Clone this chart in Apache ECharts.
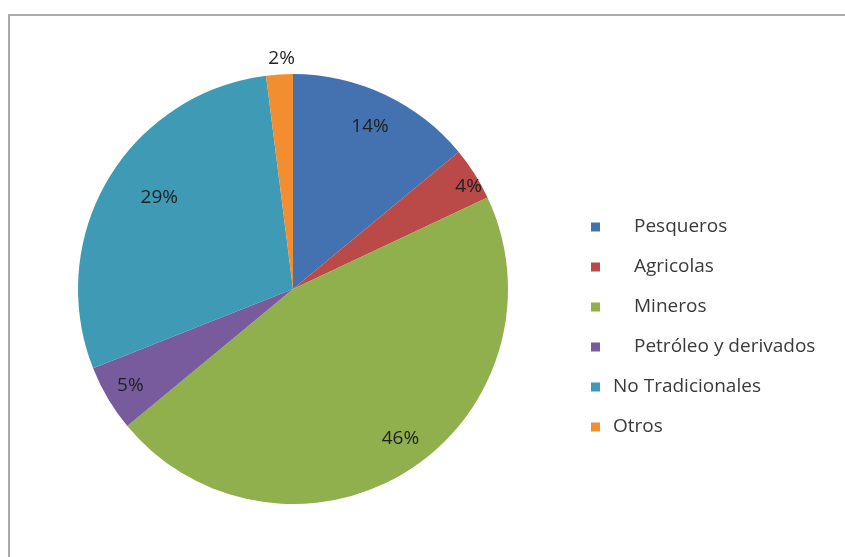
<!DOCTYPE html>
<html>
<head>
<meta charset="utf-8">
<style>
  html, body { margin: 0; padding: 0; background: #ffffff; }
  #chart { width: 845px; height: 557px; }
</style>
<script src="https://cdn.jsdelivr.net/npm/echarts@6/dist/echarts.min.js"></script>
</head>
<body>
<div id="chart"></div>
<script>
// Export categories and their share of the total (percent)
const categories = ['Pesqueros', 'Agricolas', 'Mineros', 'Petróleo y derivados', 'No Tradicionales', 'Otros'];
const shares = [14, 4, 46, 5, 29, 2];
// Legend entries that carry the extra indent
const indented = [true, true, true, true, false, false];
const colors = ['#4472b1', '#b94a47', '#8fb04c', '#775b9c', '#3f9bb5', '#f28e30'];
// Fine placement of each percentage label relative to its default spot
const labelNudge = [[-2, 5], [19, -3], [8, -7], [-3, 2], [26, 3], [16, -6]];

const font = '"Open Sans", "Liberation Sans", sans-serif';
const center = [293, 289];
const R = 215;

const pieData = categories.map((name, i) => ({ name, value: shares[i] }));

const chart = echarts.init(document.getElementById('chart'), null, { renderer: 'canvas' });

chart.setOption({
  animation: false,
  color: colors,
  graphic: [{
    type: 'rect',
    shape: { x: 9, y: 15, width: 860, height: 580 },
    style: { fill: 'none', stroke: '#ababab', lineWidth: 2 },
    silent: true,
    z: 10
  }],
  legend: {
    orient: 'vertical',
    left: 586,
    top: 212,
    icon: 'rect',
    itemWidth: 9,
    itemHeight: 9,
    itemGap: 20,
    data: categories,
    formatter: function (name) {
      const i = categories.indexOf(name);
      return indented[i] ? '{ind|' + name + '}' : '{std|' + name + '}';
    },
    textStyle: {
      fontFamily: font,
      fontSize: 19,
      lineHeight: 20,
      color: '#3a3a3a',
      rich: {
        std: { fontFamily: font, fontSize: 19, color: '#3a3a3a', padding: [0, 0, 0, 8] },
        ind: { fontFamily: font, fontSize: 19, color: '#3a3a3a', padding: [0, 0, 0, 29] }
      }
    }
  },
  series: [
    {
      // filled slices
      type: 'pie',
      center: center,
      radius: [0, R],
      startAngle: 90,
      clockwise: true,
      label: { show: false },
      labelLine: { show: false },
      itemStyle: { borderWidth: 0 },
      data: pieData,
      silent: true
    },
    {
      // percentage labels placed near the rim
      type: 'pie',
      center: center,
      radius: [150, R],
      startAngle: 90,
      clockwise: true,
      itemStyle: { color: 'rgba(0,0,0,0)', borderWidth: 0 },
      label: {
        show: true,
        position: 'inside',
        formatter: '{c}%',
        fontFamily: font,
        fontSize: 19,
        color: '#1f1f1f'
      },
      labelLine: { show: false },
      data: pieData.map((d, i) => i === pieData.length - 1 ? {
        name: d.name, value: d.value,
        label: { position: 'outside', distanceToLabelLine: 0, align: 'center', offset: labelNudge[i] },
        labelLine: { show: false, length: 10, length2: 0 }
      } : {
        name: d.name, value: d.value,
        label: { offset: labelNudge[i] }
      }),
      silent: true,
      legendHoverLink: false
    }
  ]
});
</script>
</body>
</html>
